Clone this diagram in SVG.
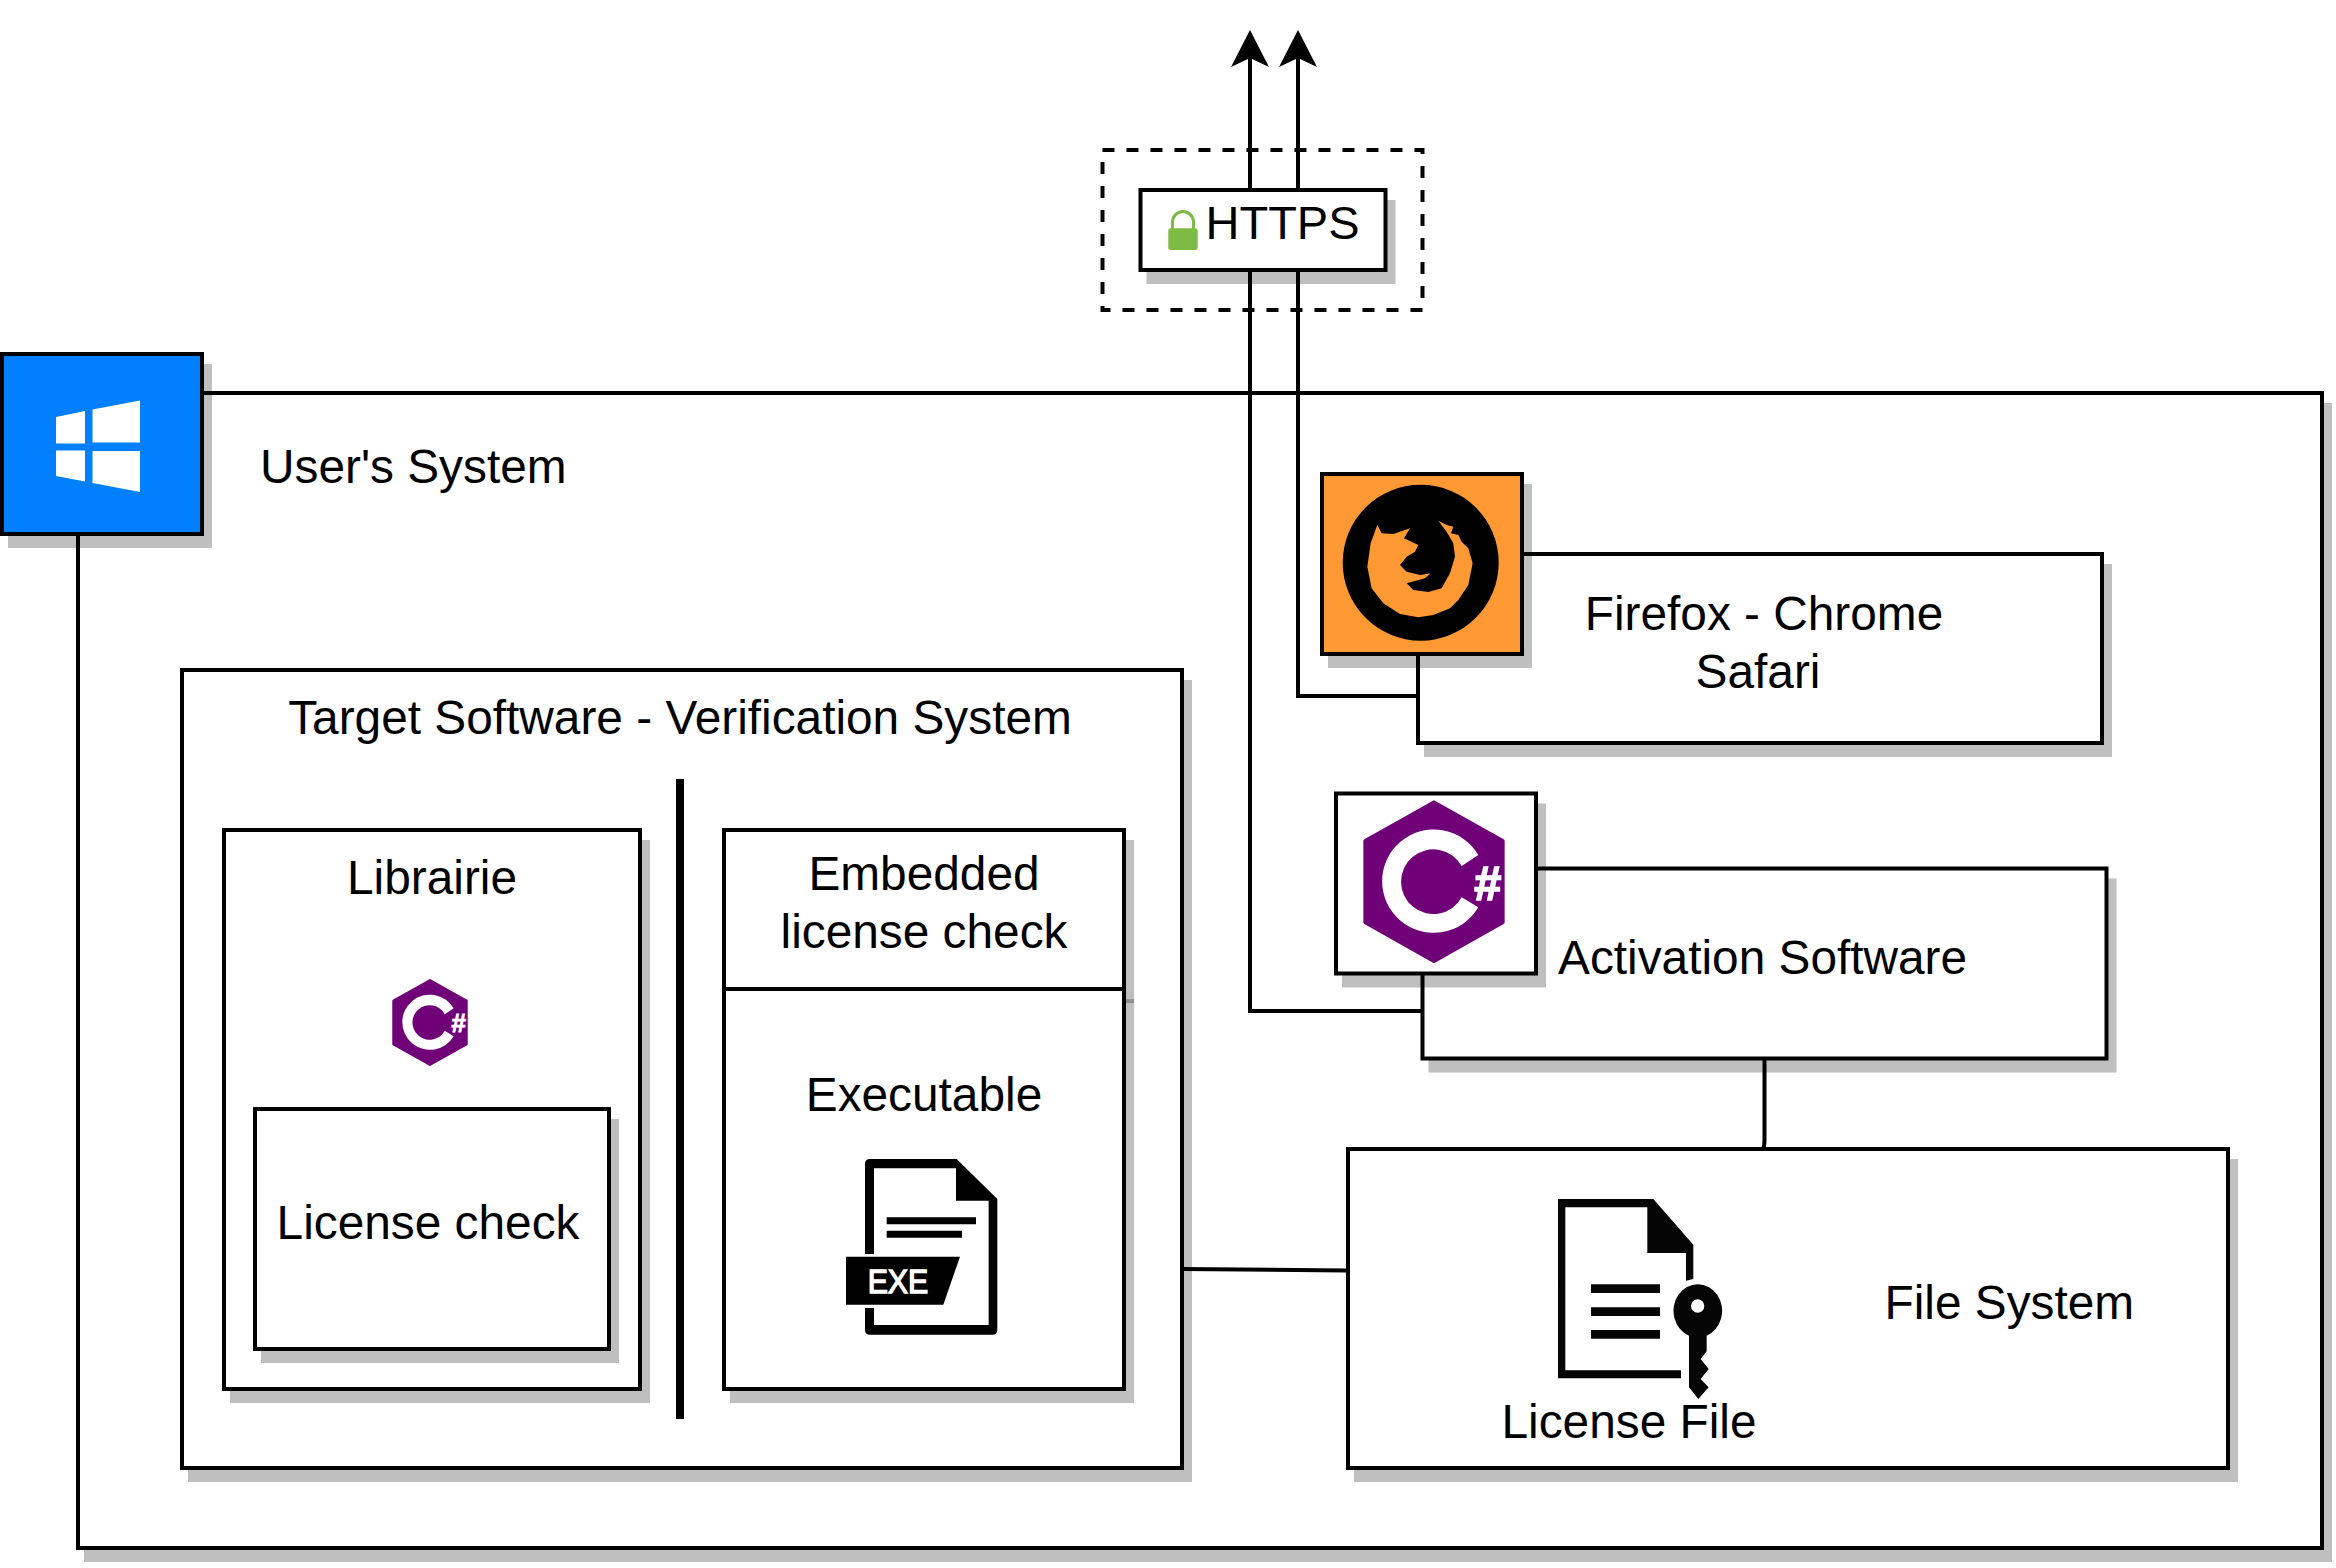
<svg xmlns="http://www.w3.org/2000/svg" xmlns:xlink="http://www.w3.org/1999/xlink" width="2336" height="1568" viewBox="0 0 2336 1568">
<style>
text{font-family:"Liberation Sans",Arial,sans-serif;font-size:47.8px;fill:#000}
.m{text-anchor:middle}
.b{fill:#fff;stroke:#000;stroke-width:4;filter:drop-shadow(8px 12px 0 rgba(0,0,0,.25))}
.c{fill:none;stroke:#000;stroke-width:4}
</style>
<defs>
<marker id="arrow" viewBox="0 0 37 38" refX="9" refY="19" markerWidth="37" markerHeight="38" markerUnits="userSpaceOnUse" orient="auto"><path d="M0,0L37,19L0,38L9,19Z" fill="#000"/></marker>
<g id="csharp">
<path d="M0,-238L206,-122V122L0,238L-206,122V-122Z" fill="#6f0078" stroke="#6f0078" stroke-width="12" stroke-linejoin="round"/>
<path d="M133,-80A155,155 0 1 0 133,77L83,47A97,97 0 1 1 83,-47Z" fill="#fff"/>
<text x="161" y="54" text-anchor="middle" stroke="#fff" stroke-width="5" style="font-size:146px;font-weight:bold;fill:#fff">#</text>
</g>
</defs>
<g id="users-system">
<rect class="b" x="78" y="393" width="2244" height="1155"/>
<text x="260" y="482.500">User's System</text>
</g>
<g id="connectors">
<path class="c" d="M1418,696H1298V58" marker-end="url(#arrow)"/>
<path class="c" d="M1422,1011H1250V58" marker-end="url(#arrow)"/>
<path class="c" d="M1764.500,1058V1140Q1764.500,1146 1763,1149"/>
<path class="c" d="M1182,1269L1347,1270.500"/>
</g>
<g id="windows">
<rect class="b" x="2" y="354" width="200" height="180" style="fill:#0080ff"/>
<path d="M56,417L85,411V443.500H56ZM92.500,409.500L140,400.500V442.500H92.500ZM56,450.500H85V481.500L56,476ZM92.500,451H140V492L92.500,483Z" fill="#fff"/>
</g>
<g id="https-zone">
<rect x="1102.500" y="150" width="320" height="160" fill="none" stroke="#000" stroke-width="4" stroke-dasharray="12 12"/>
</g>
<g id="https">
<rect class="b" x="1140.500" y="190" width="245" height="80"/>
<path d="M1168.300,231Q1168.300,228.300 1171,228.300H1195Q1197.700,228.300 1197.700,231V247.500Q1197.700,250 1195,250H1171Q1168.300,250 1168.300,247.500Z" fill="#7fba42"/>
<path d="M1172.500,229V222A10.500,10.500 0 0 1 1193.500,222V229" fill="none" stroke="#7fba42" stroke-width="3"/>
<text x="1205.500" y="238.500" style="font-size:47px">HTTPS</text>
</g>
<g id="firefox">
<rect class="b" x="1418" y="554" width="684" height="189"/>
<rect class="b" x="1322" y="474" width="200" height="180" style="fill:#ff9933"/>
<circle cx="1420.700" cy="562.700" r="78" fill="#000"/>
<path transform="translate(1290,460) scale(.3333)" d="M445,182L470,195L490,200L483,220L505,225L515,245L535,265L548,310L535,375L505,420L480,445L430,465L385,472L330,462L280,430L245,385L232,320L242,250L262,195L275,220L310,222L360,205L342,235L385,255L375,275L350,290L330,315L350,335L390,345L422,340L405,355L350,370L370,390L415,396L455,385L480,340L495,290L490,250L470,215Z" fill="#ff9933"/>
<text class="m" x="1764" y="630">Firefox - Chrome</text>
<text class="m" x="1758" y="688">Safari</text>
</g>
<g id="activation">
<rect class="b" x="1422.500" y="868.500" width="684" height="190"/>
<rect class="b" x="1336" y="793.500" width="200" height="180"/>
<use href="#csharp" transform="translate(1434,881.700) scale(.3333)"/>
<text x="1558" y="974">Activation Software</text>
</g>
<g id="file-system">
<rect class="b" x="1348" y="1149" width="880" height="319"/>
<path transform="translate(1520,1179) scale(.3333)" d="M114,60H400L520,197V300L498,305V222H382V85H136V574H483V598H114ZM213,316H420V342H213ZM213,385H420V411H213ZM213,453H420V479H213Z" fill="#050505"/>
<path transform="translate(1520,1179) scale(.3333)" d="M507,470A73,80 0 1 1 560,470V517L542,540L566,570L542,600L566,625L535,660L507,625ZM553,381A20,20 0 1 0 513,381A20,20 0 1 0 553,381Z" fill="#050505" fill-rule="evenodd"/>
<text x="1501.500" y="1437.500">License File</text>
<text x="1884.500" y="1318.500">File System</text>
</g>
<g id="target-software">
<rect class="b" x="182" y="670" width="1000" height="798"/>
<text class="m" x="680" y="733.500">Target Software - Verification System</text>
</g>
<g id="librairie">
<rect class="b" x="224" y="830" width="416" height="559"/>
<text class="m" x="432" y="893.500">Librairie</text>
<use href="#csharp" transform="translate(430,1022.500) scale(.178)"/>
</g>
<g id="license-check">
<rect class="b" x="255" y="1109" width="354" height="240"/>
<text class="m" x="428" y="1238.500">License check</text>
</g>
<g id="separator">
<rect x="676" y="779" width="8" height="640" fill="#000"/>
</g>
<g id="embedded">
<rect class="b" x="724" y="830" width="400" height="159"/>
<text class="m" x="924" y="889.500">Embedded</text>
<text class="m" x="924" y="947.500">license check</text>
</g>
<g id="executable">
<rect class="b" x="724" y="989" width="400" height="400"/>
<text class="m" x="924" y="1111">Executable</text>
<g transform="translate(820,1139) scale(.3333)">
<path d="M135,75Q135,60 150,60H410L532,180V572Q532,587 517,587H150Q135,587 135,572ZM162,88V558H506V185H408V88Z" fill="#000" fill-rule="evenodd"/>
<path d="M200,235H468V256H200ZM200,275H426V296H200Z" fill="#000"/>
<rect x="130" y="345" width="36" height="162" fill="#fff"/>
<path d="M78,353H420L370,497H78Z" fill="#000"/>
<text x="143" y="462" textLength="182" lengthAdjust="spacingAndGlyphs" stroke="#fff" stroke-width="4" style="font-size:97px;fill:#fff">EXE</text>
</g>
</g>
</svg>
